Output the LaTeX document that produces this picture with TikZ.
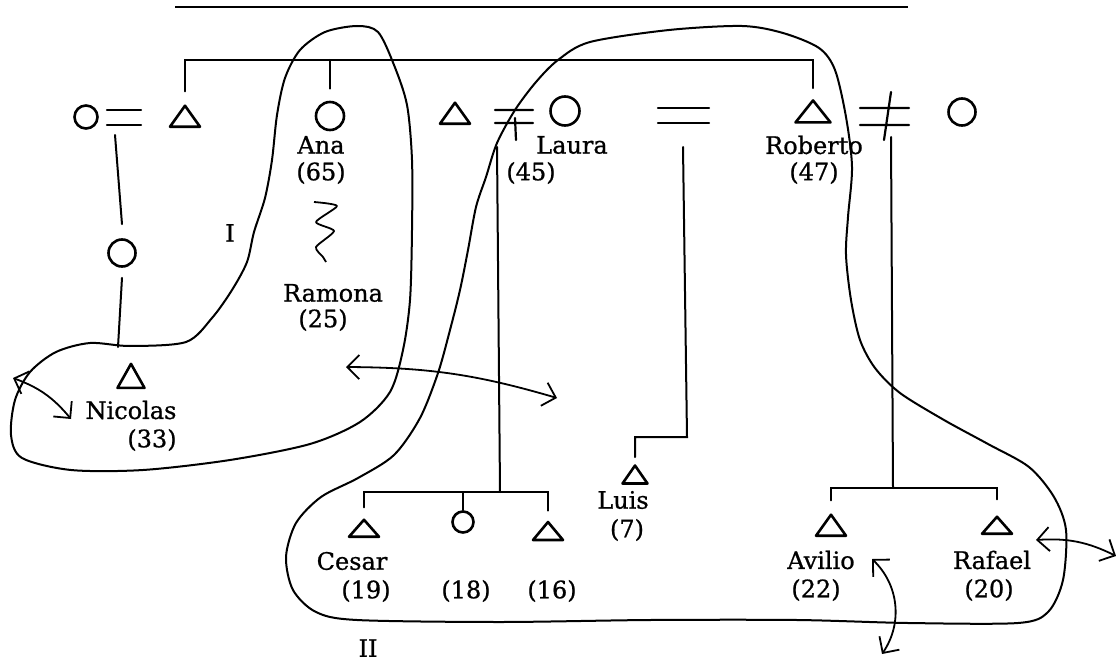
\documentclass[tikz,border=0pt]{standalone}
\usepackage{fontspec}
\setmainfont{DejaVu Serif}
\newfontfamily\typed{DejaVu Serif}[FakeBold=0.8]
\usetikzlibrary{shapes.geometric,arrows.meta}
\tikzset{
  kin/.style={line width=2pt,line cap=round},
  sign/.style={line width=2.2pt,line cap=round},
  fem/.style={draw,circle,line width=2.6pt,inner sep=0pt,minimum size=25pt},
  mal/.style={draw,isosceles triangle,isosceles triangle stretches,shape border rotate=90,
    line width=2.6pt,line join=round,inner sep=0pt,minimum width=30pt,minimum height=21pt},
  lbl/.style={inner sep=0pt,font=\typed\fontsize{24}{28}\selectfont},
  group/.style={line width=2pt,line join=round},
  move/.style={<->,line width=1.8pt},
}
\begin{document}
\begin{tikzpicture}[x=1pt,y=-1pt,>={Straight Barb[length=12pt,width=24pt]}]
  \useasboundingbox (0,0) rectangle (1116,663);
  \draw[line width=1.5pt] (175,7) -- (908,7);

  % first generation
  \node[fem,minimum size=23pt] (gm) at (86,117) {};
  \node[mal] (gf) at (185,119) {};
  \node[fem,minimum size=28pt] (ana) at (330,116) {};
  \node[mal] (lh) at (455,116) {};
  \node[fem,minimum size=29pt] (laura) at (565,111) {};
  \node[mal,minimum width=35pt,minimum height=22pt] (rob) at (813,114) {};
  \node[fem,minimum size=27pt] (rw) at (962,112) {};

  \coordinate (m1) at (124,117);
  \coordinate (m2) at (514,116);
  \coordinate (m3) at (683,116);
  \coordinate (m4) at (884,116);
  \draw[sign] (m1) ++(-17,-7) -- ++(34,0) (m1) ++(-17,8) -- ++(34,0);
  \draw[sign] (m2) ++(-19,-6) -- ++(38,0) (m2) ++(-19,7) -- ++(38,0) (m2) ++(1,2) -- ++(1,22);
  \draw[sign] (m3) ++(-25,-8) -- ++(51,0) (m3) ++(-25,7) -- ++(51,0);
  \draw[sign] (m4) ++(-24,-8) -- ++(49,0) (m4) ++(-24,9) -- ++(49,0) (m4) ++(7,-24) -- ++(-7,48);

  \node[lbl] (anaN) at (321,145) {Ana};
  \node[lbl] (anaY) at (321,173) {(65)};
  \node[lbl] (lauN) at (572,145) {Laura};
  \node[lbl] (lauY) at (531,173) {(45)};
  \node[lbl] (robN) at (814,145) {Roberto};
  \node[lbl] (robY) at (814,173) {(47)};

  % sibling bar
  \coordinate (sb) at (500,60);
  \draw[kin] ([yshift=11pt]gf.north) -- (gf.north |- sb) -- (rob.north |- sb) -- ([yshift=9pt]rob.north);
  \draw[kin] (ana.north |- sb) -- ([yshift=12pt]ana.north);

  % Ana and Ramona
  \draw[line width=1.8pt,line join=round] plot[smooth,tension=0.4] coordinates
    {(314,202) (337,206) (316,222) (334,231) (316,247) (323,257) (326,262)};
  \node[lbl] (ramN) at (333,293) {Ramona};
  \node[lbl] (ramY) at (323,320) {(25)};

  % Nicolas
  \coordinate (d1) at (115,135);
  \coordinate (nt) at (118,347);
  \node[fem,minimum size=27pt] (nm) at (122,253) {};
  \draw[kin] (d1) -- ([yshift=14pt]nm.north);
  \draw[kin] ([yshift=-10pt]nm.south) -- (nt);
  \node[mal,minimum width=27pt,minimum height=24pt] (nic) at (131,380) {};
  \node[lbl] (nicN) at (131,410) {Nicolas};
  \node[lbl] (nicY) at (152,440) {(33)};

  % Laura's children
  \coordinate (ld) at (497,147);
  \coordinate (kb) at (500,492);
  \node[mal,minimum height=17pt] (cesar) at (364,530) {};
  \node[fem,minimum size=21pt] (k18) at (463,522) {};
  \node[mal,minimum height=18pt] (k16) at (548,533) {};
  \draw[kin] (ld) -- (kb);
  \draw[kin] ([yshift=9pt]cesar.north) -- (cesar.north |- kb) -- (k16.north |- kb) -- ([yshift=8pt]k16.north);
  \draw[kin] (k18.north |- kb) -- (k18.north);
  \node[lbl] (cesN) at (352,561) {Cesar};
  \node[lbl] (cesY) at (366,591) {(19)};
  \node[lbl] (k18Y) at (466,591) {(18)};
  \node[lbl] (k16Y) at (552,591) {(16)};

  % Luis
  \coordinate (lq) at (683,147);
  \coordinate (lb) at (687,437);
  \node[mal,minimum width=25pt,minimum height=18pt] (luis) at (635,477) {};
  \draw[kin] (lq) -- (lb) -- (luis.north |- lb) -- ([yshift=5pt]luis.north);
  \node[lbl] (luiN) at (623,500) {Luis};
  \node[lbl] (luiY) at (627,530) {(7)};

  % Roberto's children
  \coordinate (rd) at (891,137);
  \coordinate (rb) at (893,488);
  \node[mal] (avi) at (831,528) {};
  \node[mal,minimum height=17pt] (raf) at (997,527) {};
  \draw[kin] (rd) -- (rb);
  \draw[kin] ([yshift=11pt]avi.north) -- (avi.north |- rb) -- (raf.north |- rb) -- ([yshift=14pt]raf.north);
  \node[lbl] (aviN) at (821,560) {Avilio};
  \node[lbl] (aviY) at (816,590) {(22)};
  \node[lbl] (rafN) at (992,560) {Rafael};
  \node[lbl] (rafY) at (989,590) {(20)};

  % groups
  \draw[group] plot[smooth cycle,tension=0.5] coordinates
    {(357,26) (378,32) (394,65) (407,105) (412,160) (412,230) (410,300) (403,350)
     (390,392) (360,422) (310,444) (230,460) (143,470) (71,470) (22,458) (11,435)
     (15,400) (30,372) (56,352) (90,343) (130,346) (186,342) (212,318) (232,290)
     (247,262) (254,232) (265,198) (272,160) (277,115) (285,78) (300,50) (325,32)};
  \draw[group] plot[smooth cycle,tension=0.5] coordinates
    {(558,60) (590,42) (669,30) (742,26) (783,33) (819,48) (835,70) (846,117)
     (852,167) (848,217) (846,255) (851,300) (860,340) (875,368) (900,393) (944,420)
     (988,444) (1029,467) (1054,497) (1066,530) (1063,580) (1048,612) (1018,623)
     (908,623) (797,620) (650,620) (500,622) (357,620) (316,612) (293,590) (286,557)
     (296,523) (321,497) (358,478) (394,455) (420,418) (438,373) (450,330) (460,290)
     (468,250) (476,207) (486,177) (497,143) (515,110) (536,82)};
  \node[lbl] (g1) at (230,233) {I};
  \node[lbl] (g2) at (368,648) {II};

  % moves
  \coordinate (a1) at (13,378);
  \coordinate (a2) at (71,419);
  \draw[move] (a1) to[bend left=15] (a2);
  \coordinate (r1) at (346,367);
  \coordinate (r2) at (557,398);
  \draw[move] (r1) to[bend left=8] (r2);
  \coordinate (f1) at (1036,540);
  \coordinate (f2) at (1116,556);
  \draw[move] (f1) to[bend left=15] (f2);
  \coordinate (v1) at (872,559);
  \coordinate (v2) at (882,654);
  \draw[move] (v1) to[bend left=40] (v2);
\end{tikzpicture}
\end{document}
